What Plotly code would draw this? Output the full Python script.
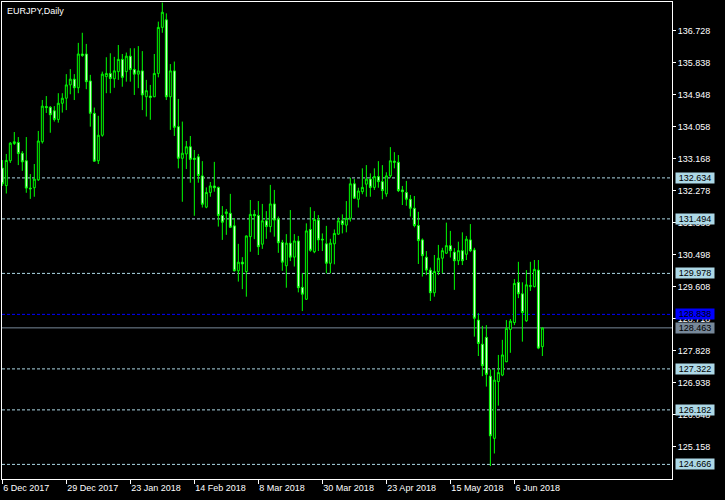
import pandas as pd
import plotly.graph_objects as go

# ---- data ----
holidays = ["2017-12-25", "2018-01-01"]
dates = [d.strftime("%Y-%m-%d") for d in pd.bdate_range("2017-12-06", "2018-06-15")
         if d.strftime("%Y-%m-%d") not in holidays]

opens = [132.91,132.42,133.11,133.59,133.62,133.32,133.11,132.35,132.36,132.58,
         133.64,134.62,134.60,134.50,134.26,134.71,134.85,135.22,135.38,135.14,
         136.08,136.08,135.33,134.43,133.11,133.82,135.45,135.54,135.39,135.59,
         135.93,135.59,136.02,135.65,135.52,135.61,134.89,134.91,134.89,135.54,
         136.82,137.03,134.89,135.61,134.06,133.18,133.30,133.50,133.18,133.22,
         132.69,131.82,132.23,132.41,132.37,131.59,131.64,131.65,131.30,130.05,
         130.29,130.03,131.00,131.62,131.59,130.79,131.44,131.28,131.91,131.49,
         130.84,130.19,130.82,130.43,130.88,129.59,129.26,131.20,130.58,131.46,
         130.93,130.80,130.26,130.80,131.07,131.44,131.32,131.51,132.47,132.04,
         132.25,132.46,132.60,132.37,132.67,132.53,132.19,132.69,133.10,133.07,
         132.30,132.23,132.04,131.79,131.31,130.91,130.43,130.07,129.44,130.03,
         130.40,130.54,130.75,130.57,130.33,130.61,130.51,130.91,130.63,128.68,
         128.01,128.20,127.12,125.39,126.97,127.15,127.52,128.42,128.61,129.73,
         129.41,128.66,129.61,129.61,130.07,127.94]
highs = [133.13,133.30,133.63,133.91,133.77,133.38,133.77,132.74,133.02,133.94,
         134.80,134.91,134.63,134.63,134.99,134.99,135.52,135.66,135.52,136.39,
         136.67,136.36,135.50,134.59,134.36,135.59,135.99,136.10,136.00,136.33,
         136.08,136.12,136.24,136.24,136.30,136.16,135.36,135.22,136.08,136.98,
         137.51,137.21,135.80,135.87,134.83,134.20,133.66,133.80,133.41,133.30,
         133.10,132.37,132.52,133.08,132.39,131.85,131.77,132.19,131.51,130.80,
         130.43,131.03,132.02,131.74,131.99,131.91,131.71,132.44,132.30,131.56,
         130.91,131.07,131.74,131.07,131.02,129.98,131.37,131.82,131.71,131.60,
         131.09,131.30,130.94,131.20,131.53,131.62,131.99,132.64,132.60,132.36,
         132.90,132.99,132.76,132.90,133.10,132.99,132.79,133.49,133.35,133.27,
         132.41,132.55,132.16,132.13,131.69,130.95,130.60,130.14,130.49,130.77,
         130.69,131.39,131.16,130.68,130.86,131.12,131.02,131.35,130.69,128.87,
         128.52,128.54,127.31,127.31,127.71,128.13,128.68,128.71,129.82,130.30,
         129.73,130.07,130.30,130.35,130.35,128.48]
lows = [132.41,132.20,133.05,133.55,132.99,132.83,132.22,132.05,132.11,132.55,
        133.59,134.44,133.89,134.20,134.17,134.45,134.52,134.96,134.80,134.99,
        136.00,135.10,134.06,133.08,133.02,133.78,134.99,134.99,135.14,135.36,
        135.17,135.31,135.31,134.94,135.13,134.52,134.34,134.25,134.88,135.43,
        136.67,134.80,133.97,133.80,132.90,131.97,132.88,132.50,131.58,132.50,
        131.81,131.79,132.11,132.25,131.28,130.91,131.05,131.24,130.03,129.75,
        129.54,129.33,130.58,130.93,130.49,130.66,130.94,131.12,131.00,130.55,
        130.05,129.58,130.32,130.17,129.45,128.93,129.24,130.58,130.54,130.60,
        130.60,129.98,129.98,130.23,131.05,131.09,131.12,131.42,132.05,131.81,
        132.18,132.11,132.11,132.30,132.36,132.04,132.11,132.64,132.90,132.24,
        131.88,131.86,131.56,131.26,130.24,129.89,129.93,129.21,129.33,129.93,
        129.98,130.52,130.42,129.52,130.21,130.21,130.35,130.57,128.22,127.68,
        127.12,126.83,124.62,124.97,126.30,127.12,127.51,127.77,128.54,129.29,
        128.08,128.63,129.49,129.59,127.87,127.68]
closes = [132.47,133.12,133.60,133.64,133.31,133.08,132.35,132.33,132.60,133.66,
          134.63,134.59,134.39,134.26,134.71,134.85,135.22,135.38,135.14,136.08,
          136.04,135.31,134.43,133.10,133.82,135.52,135.54,135.40,135.61,135.93,
          135.43,136.02,135.65,135.52,135.61,134.94,135.06,134.87,135.54,136.82,
          137.24,134.89,135.61,134.04,133.18,133.32,133.50,133.15,133.15,132.70,
          131.90,132.23,132.41,132.36,131.59,131.40,131.69,131.26,130.05,130.29,
          130.24,131.02,131.62,131.58,130.72,131.44,131.28,131.91,131.46,130.83,
          130.29,130.82,130.43,130.88,129.58,129.40,131.16,130.62,131.48,130.91,
          130.91,130.26,130.82,131.09,131.44,131.34,131.51,132.47,132.07,132.27,
          132.37,132.60,132.37,132.67,132.53,132.28,132.69,133.11,133.07,132.28,
          132.25,132.04,131.79,131.31,130.89,130.47,130.07,129.44,130.03,130.40,
          130.61,130.75,130.61,130.33,130.61,130.33,130.93,130.61,128.73,128.03,
          127.41,127.17,125.46,127.01,127.22,127.71,128.45,128.65,129.70,129.41,
          128.89,129.66,129.64,130.09,127.90,128.46]

x_tick_positions = [0, 16, 32, 48, 64, 80, 96, 112, 128]
x_tick_labels = ["6 Dec 2017", "29 Dec 2017", "23 Jan 2018", "14 Feb 2018", "8 Mar 2018",
                 "30 Mar 2018", "23 Apr 2018", "15 May 2018", "6 Jun 2018"]
y_ticks = [136.728, 135.838, 134.948, 134.058, 133.168, 132.278, 131.388,
           130.498, 129.608, 128.718, 127.828, 126.938, 126.048, 125.158]
levels = [132.634, 131.494, 129.978, 127.322, 126.182, 124.666]
blue_level = 128.838
bid_level = 128.463
title_text = "EURJPY,Daily"

# ---- figure ----
FONT = "Liberation Sans"
fig = go.Figure()
fig.add_trace(go.Candlestick(
    x=dates, open=opens, high=highs, low=lows, close=closes,
    increasing=dict(line=dict(color="#00FF00", width=1), fillcolor="black"),
    decreasing=dict(line=dict(color="#00FF00", width=1), fillcolor="white"),
    whiskerwidth=0, hoverinfo="skip", showlegend=False,
))

shapes = []
annotations = []
for lv in levels:
    shapes.append(dict(type="line", xref="paper", x0=0, x1=1, yref="y", y0=lv, y1=lv,
                       line=dict(color="#ADD8E6", width=1, dash="3px,2px"), layer="below"))
    annotations.append(dict(xref="paper", x=1, xanchor="left", xshift=3, yref="y", y=lv,
                            yanchor="middle", text=f"{lv:.3f}", showarrow=False,
                            bgcolor="#ADD8E6", width=38, height=10, borderpad=0,
                            font=dict(family=FONT, size=9, color="black")))
shapes.append(dict(type="line", xref="paper", x0=0, x1=1, yref="y", y0=blue_level, y1=blue_level,
                   line=dict(color="#0000FF", width=1, dash="3px,2px"), layer="below"))
annotations.append(dict(xref="paper", x=1, xanchor="left", xshift=3, yref="y", y=blue_level,
                        yanchor="middle", text=f"{blue_level:.3f}", showarrow=False,
                        bgcolor="#0000FF", width=38, height=10, borderpad=0,
                        font=dict(family=FONT, size=9, color="black")))
shapes.append(dict(type="line", xref="paper", x0=0, x1=1, yref="y", y0=bid_level, y1=bid_level,
                   line=dict(color="#778899", width=1), layer="below"))
annotations.append(dict(xref="paper", x=1, xanchor="left", xshift=3, yref="y", y=bid_level,
                        yanchor="middle", text=f"{bid_level:.3f}", showarrow=False,
                        bgcolor="#778899", width=38, height=10, borderpad=0,
                        font=dict(family=FONT, size=9, color="black")))
annotations.append(dict(xref="paper", yref="paper", x=0, y=1, xanchor="left", yanchor="top",
                        xshift=3, yshift=-2, text=title_text, showarrow=False,
                        font=dict(family=FONT, size=9, color="white")))

fig.update_layout(
    width=725, height=500,
    margin=dict(l=2, r=53, t=2, b=21, pad=0),
    paper_bgcolor="black", plot_bgcolor="black",
    shapes=shapes, annotations=annotations,
    xaxis=dict(type="category", range=[-0.075, 167.4], showgrid=False, zeroline=False,
               showline=True, mirror=True, linecolor="white", linewidth=1,
               ticks="outside", ticklen=4, tickcolor="white",
               tickvals=[dates[k] for k in x_tick_positions], ticktext=x_tick_labels,
               ticklabelposition="outside right",
               tickfont=dict(family=FONT, size=9, color="white"),
               rangeslider=dict(visible=False)),
    yaxis=dict(side="right", range=[124.26, 137.526], showgrid=False, zeroline=False,
               showline=True, mirror=True, linecolor="white", linewidth=1,
               ticks="outside", ticklen=3, tickcolor="white",
               tickvals=y_ticks, ticktext=[f"{v:.3f}" for v in y_ticks],
               tickfont=dict(family=FONT, size=9, color="white")),
)
fig.write_html("out.html", config={"displayModeBar": False},
               post_script="document.body.style.margin='0px';document.body.style.background='black';")
